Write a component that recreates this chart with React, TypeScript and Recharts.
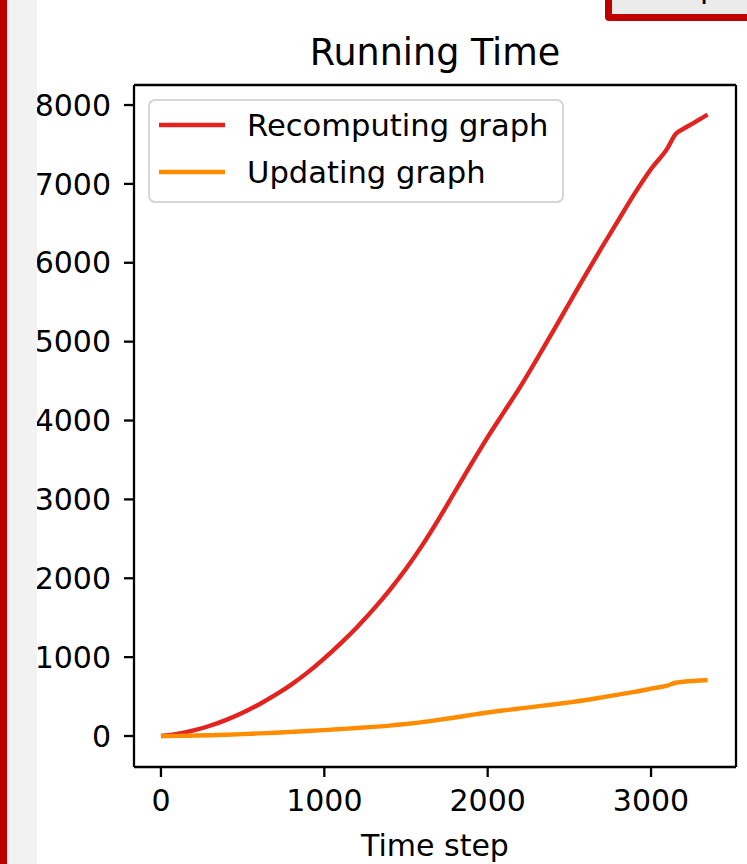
import { LineChart, Line, XAxis, YAxis, Legend, ReferenceLine } from "recharts";

const steps = [
  0, 100, 200, 300, 400, 500, 600, 700, 800, 900, 1000, 1100, 1200, 1300, 1400, 1500,
  1600, 1700, 1800, 1900, 2000, 2100, 2200, 2300, 2400, 2500, 2600, 2700, 2800, 2900,
  3000, 3100, 3150, 3200, 3250, 3300, 3346,
];
const recomputing = [
  0, 25, 70, 130, 205, 295, 400, 520, 655, 810, 985, 1175, 1380, 1605, 1850, 2120,
  2420, 2750, 3100, 3450, 3790, 4110, 4430, 4775, 5130, 5490, 5850, 6200, 6540, 6880,
  7190, 7450, 7630, 7700, 7760, 7820, 7880,
];
const updating = [
  0, 2, 5, 10, 16, 24, 33, 42, 52, 63, 75, 88, 101, 116, 132, 152,
  176, 204, 235, 267, 298, 325, 350, 375, 400, 427, 456, 490, 525, 560,
  600, 640, 675, 688, 697, 703, 710,
];
const xTicks = [0, 1000, 2000, 3000];
const yTicks = [0, 1000, 2000, 3000, 4000, 5000, 6000, 7000, 8000];
const xDomain = [-165, 3520];
const yDomain = [-393, 8254];

const rows = steps.map((t, i) => ({ t, recomputing: recomputing[i], updating: updating[i] }));

const FONT = "DejaVu Sans";
const SPINE = 2.3;

function LegendBox(props: any) {
  const items = props.payload || [];
  return (
    <svg width={418} height={106} style={{ display: "block" }}>
      <rect x={1} y={1} width={414} height={102} rx={6} fill="rgba(255,255,255,0.8)" stroke="#d6d6d6" strokeWidth={2} />
      {items.map((p: any, i: number) => {
        const cy = 26 + i * 47;
        return (
          <g key={p.value}>
            <line x1={11} x2={77} y1={cy} y2={cy} stroke={p.color} strokeWidth={4.4} />
            <text x={99} y={cy + 11} fontFamily={FONT} fontSize={30.6} fill="#000">
              {p.value}
            </text>
          </g>
        );
      })}
    </svg>
  );
}

export default function App() {
  return (
    <div style={{ position: "fixed", left: 0, top: 0, width: 747, height: 864, background: "#fff", overflow: "hidden" }}>
      <LineChart width={747} height={864} data={rows} margin={{ top: 85, right: 11, bottom: 0, left: 0 }}>
        <XAxis
          dataKey="t"
          type="number"
          domain={xDomain}
          allowDataOverflow
          ticks={xTicks}
          interval={0}
          height={97}
          tickSize={10}
          tickMargin={13}
          axisLine={{ stroke: "#000", strokeWidth: SPINE }}
          tickLine={{ stroke: "#000", strokeWidth: SPINE }}
          tick={{ fontSize: 30, fill: "#000", fontFamily: FONT }}
          label={{ value: "Time step", position: "insideBottom", offset: 8, fontSize: 30, fill: "#000", fontFamily: FONT }}
        />
        <YAxis
          type="number"
          domain={yDomain}
          allowDataOverflow
          ticks={yTicks}
          interval={0}
          width={134}
          tickSize={10}
          tickMargin={13}
          axisLine={{ stroke: "#000", strokeWidth: SPINE }}
          tickLine={{ stroke: "#000", strokeWidth: SPINE }}
          tick={{ fontSize: 30, fill: "#000", fontFamily: FONT }}
        />
        <ReferenceLine x={xDomain[1]} stroke="#000" strokeWidth={SPINE} />
        <ReferenceLine y={yDomain[1]} stroke="#000" strokeWidth={SPINE} />
        <Legend
          layout="vertical"
          align="center"
          verticalAlign="middle"
          wrapperStyle={{ left: 148, top: 99, width: 418, height: 106 }}
          content={LegendBox}
        />
        <Line
          name="Recomputing graph"
          dataKey="recomputing"
          type="monotone"
          stroke="#e2231f"
          strokeWidth={4.4}
          dot={false}
          isAnimationActive={false}
        />
        <Line
          name="Updating graph"
          dataKey="updating"
          type="monotone"
          stroke="#ff8c00"
          strokeWidth={4.4}
          dot={false}
          isAnimationActive={false}
        />
      </LineChart>

      <div
        style={{
          position: "absolute",
          left: 134,
          width: 602,
          top: 35,
          textAlign: "center",
          fontFamily: FONT,
          fontSize: 36.5,
          lineHeight: "36.5px",
          color: "#000",
          whiteSpace: "nowrap",
        }}
      >
        Running Time
      </div>

      {/* page chrome around the cropped figure */}
      <div style={{ position: "absolute", left: 0, top: 0, width: 7, height: 864, background: "#c00000" }} />
      <div style={{ position: "absolute", left: 7, top: 0, width: 30, height: 864, background: "#f2f2f2" }} />
      <div
        style={{
          position: "absolute",
          left: 605,
          top: -30,
          width: 170,
          height: 51,
          boxSizing: "border-box",
          border: "7px solid #c00000",
          borderRadius: 4,
          background: "#ebebeb",
          overflow: "hidden",
        }}
      >
        <span
          style={{
            position: "absolute",
            left: 88,
            top: -4,
            fontFamily: FONT,
            fontSize: 30,
            lineHeight: "30px",
            color: "#000",
          }}
        >
          p
        </span>
      </div>
    </div>
  );
}
